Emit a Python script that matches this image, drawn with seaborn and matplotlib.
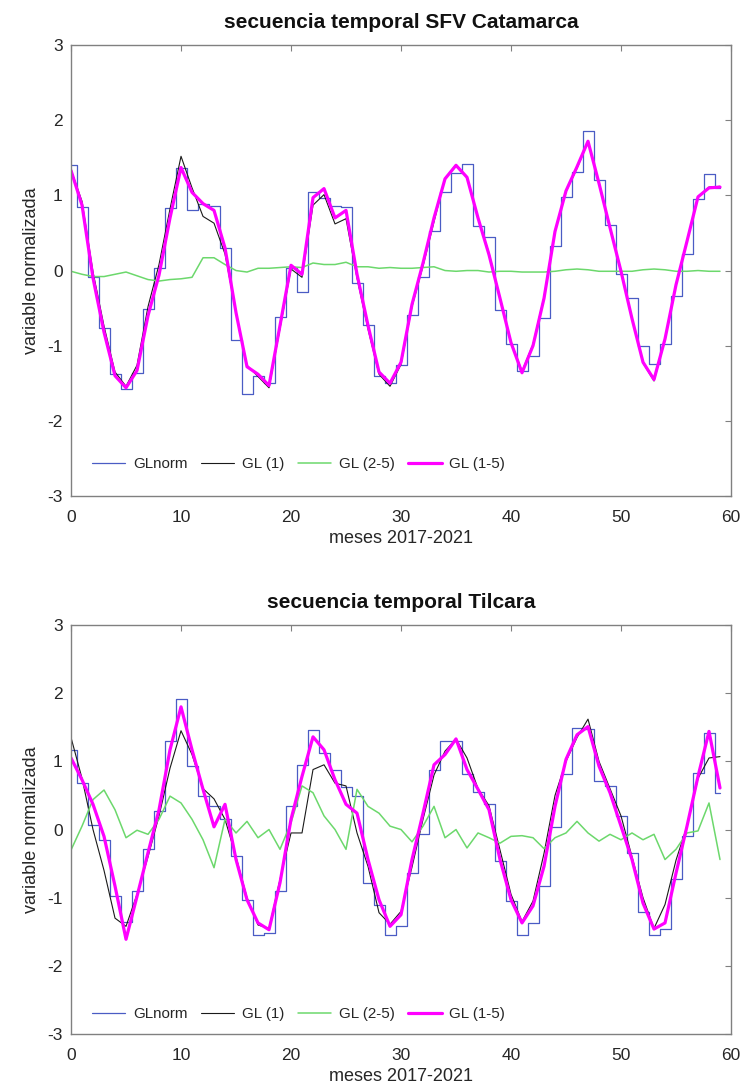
import matplotlib
matplotlib.use("Agg")
import matplotlib.pyplot as plt
import numpy as np
import pandas as pd
import seaborn as sns

# meses 0..59
meses = list(range(60))

# ---- SFV Catamarca ----
cat_glnorm = [1.41, 0.84, -0.08, -0.77, -1.37, -1.58, -1.36, -0.51, 0.03, 0.83,
              1.37, 0.80, 0.89, 0.86, 0.30, -0.93, -1.64, -1.40, -1.50, -0.62,
              0.03, -0.28, 1.04, 0.97, 0.86, 0.84, -0.17, -0.73, -1.40, -1.49,
              -1.26, -0.59, -0.09, 0.53, 1.05, 1.30, 1.42, 0.59, 0.44, -0.52,
              -0.98, -1.34, -1.14, -0.63, 0.33, 0.98, 1.31, 1.85, 1.20, 0.60,
              -0.05, -0.36, -1.01, -1.25, -0.98, -0.34, 0.22, 0.95, 1.29, 1.10]
cat_gl1 = [1.34, 0.92, -0.02, -0.74, -1.35, -1.54, -1.26, -0.48, 0.08, 0.82,
           1.52, 1.10, 0.72, 0.63, 0.22, -0.56, -1.26, -1.41, -1.56, -0.77,
           0.02, -0.09, 0.87, 1.01, 0.62, 0.69, -0.10, -0.78, -1.38, -1.54,
           -1.25, -0.48, 0.06, 0.65, 1.22, 1.41, 1.24, 0.70, 0.23, -0.36,
           -0.95, -1.34, -0.98, -0.35, 0.53, 1.05, 1.36, 1.71, 1.17, 0.58,
           0.00, -0.63, -1.23, -1.47, -0.92, -0.18, 0.40, 0.98, 1.11, 1.12]
cat_gl25 = [-0.01, -0.05, -0.08, -0.08, -0.05, -0.02, -0.07, -0.12, -0.14, -0.12,
            -0.11, -0.09, 0.17, 0.17, 0.08, 0.00, -0.02, 0.03, 0.03, 0.04,
            0.05, 0.04, 0.10, 0.08, 0.08, 0.11, 0.05, 0.05, 0.03, 0.04,
            0.03, 0.03, 0.04, 0.05, 0.00, -0.01, 0.00, 0.00, -0.02, -0.01,
            -0.01, -0.02, -0.02, -0.02, -0.01, 0.01, 0.02, 0.01, -0.01, -0.01,
            -0.01, -0.01, 0.01, 0.02, 0.01, -0.01, -0.01, 0.00, -0.01, -0.01]
cat_gl15 = [1.33, 0.87, -0.10, -0.82, -1.40, -1.56, -1.33, -0.60, -0.06, 0.70,
            1.37, 1.04, 0.89, 0.80, 0.30, -0.56, -1.28, -1.38, -1.53, -0.73,
            0.07, -0.05, 0.97, 1.09, 0.70, 0.80, -0.05, -0.73, -1.35, -1.50,
            -1.22, -0.45, 0.10, 0.70, 1.22, 1.40, 1.24, 0.70, 0.21, -0.37,
            -0.96, -1.36, -1.00, -0.37, 0.52, 1.06, 1.38, 1.72, 1.16, 0.57,
            -0.01, -0.64, -1.22, -1.45, -0.91, -0.19, 0.39, 0.98, 1.10, 1.11]

# ---- Tilcara ----
til_glnorm = [1.17, 0.69, 0.06, -0.15, -0.97, -1.35, -0.90, -0.29, 0.27, 1.30,
              1.92, 0.93, 0.49, 0.35, 0.15, -0.39, -1.03, -1.54, -1.52, -0.90,
              0.34, 0.94, 1.46, 1.12, 0.87, 0.62, 0.49, -0.78, -1.10, -1.54,
              -1.42, -0.64, -0.07, 0.87, 1.30, 1.30, 0.81, 0.55, 0.37, -0.46,
              -1.05, -1.55, -1.37, -0.83, 0.04, 0.82, 1.49, 1.47, 0.71, 0.64,
              0.20, -0.34, -1.21, -1.55, -1.46, -0.73, -0.09, 0.83, 1.41, 0.54]
til_gl1 = [1.35, 0.75, 0.00, -0.60, -1.30, -1.42, -0.95, -0.40, 0.20, 0.90,
           1.45, 1.10, 0.60, 0.45, 0.15, -0.40, -1.00, -1.40, -1.45, -0.73,
           -0.05, -0.05, 0.88, 0.95, 0.68, 0.64, -0.05, -0.54, -1.22, -1.39,
           -1.20, -0.55, 0.15, 0.80, 1.15, 1.33, 1.05, 0.60, 0.35, -0.30,
           -0.95, -1.35, -1.05, -0.35, 0.50, 1.00, 1.35, 1.62, 1.00, 0.60,
           0.20, -0.40, -1.00, -1.45, -1.10, -0.45, 0.05, 0.75, 1.05, 1.07]
til_gl25 = [-0.30, 0.05, 0.44, 0.58, 0.29, -0.12, -0.01, -0.07, 0.15, 0.49,
            0.39, 0.15, -0.15, -0.56, 0.15, -0.05, 0.12, -0.12, 0.00, -0.29,
            0.10, 0.64, 0.54, 0.20, 0.00, -0.29, 0.59, 0.34, 0.24, 0.05,
            0.00, -0.18, 0.05, 0.34, -0.12, 0.00, -0.27, -0.05, -0.12, -0.20,
            -0.10, -0.09, -0.12, -0.28, -0.12, -0.05, 0.12, -0.05, -0.17, -0.07,
            -0.15, -0.05, -0.15, -0.07, -0.44, -0.29, -0.05, -0.02, 0.39, -0.44]
til_gl15 = [1.05, 0.73, 0.37, -0.10, -0.83, -1.61, -0.98, -0.34, 0.29, 1.17,
            1.80, 1.17, 0.59, 0.04, 0.37, -0.44, -1.03, -1.37, -1.47, -0.78,
            0.15, 0.78, 1.36, 1.17, 0.73, 0.37, 0.24, -0.44, -1.03, -1.42,
            -1.25, -0.44, 0.24, 0.95, 1.10, 1.33, 0.88, 0.59, 0.29, -0.44,
            -1.03, -1.37, -1.12, -0.54, 0.34, 1.03, 1.39, 1.51, 0.93, 0.54,
            0.05, -0.44, -1.08, -1.46, -1.37, -0.64, 0.05, 0.78, 1.44, 0.61]

series_labels = ["GLnorm", "GL (1)", "GL (2-5)", "GL (1-5)"]
x_ticks = [0, 10, 20, 30, 40, 50, 60]
y_ticks = [-3, -2, -1, 0, 1, 2, 3]

sns.set_style("white")
plt.rcParams['font.family'] = ['Liberation Sans', 'DejaVu Sans']
plt.rcParams['axes.unicode_minus'] = False

FRAME = '#808080'
TXT = '#262626'


def draw_panel(ax, title, glnorm, gl1, gl25, gl15, legend_y):
    df = pd.DataFrame({"mes": meses, "GLnorm": glnorm, "GL1": gl1,
                       "GL25": gl25, "GL15": gl15})
    sns.lineplot(data=df, x="mes", y="GLnorm", ax=ax, color='#4a5cc4', lw=0.9,
                 drawstyle='steps-mid', estimator=None, label=series_labels[0])
    sns.lineplot(data=df, x="mes", y="GL1", ax=ax, color='#1a1a1a', lw=0.8,
                 estimator=None, label=series_labels[1])
    sns.lineplot(data=df, x="mes", y="GL25", ax=ax, color='#6cd86c', lw=1.1,
                 estimator=None, label=series_labels[2])
    sns.lineplot(data=df, x="mes", y="GL15", ax=ax, color='#ff00ff', lw=2.3,
                 estimator=None, label=series_labels[3])

    ax.set_xlim(0, 60)
    ax.set_ylim(-3, 3)
    ax.set_xticks(x_ticks)
    ax.set_yticks(y_ticks)
    ax.set_title(title, fontsize=15, fontweight='bold', color='#111111', pad=12)
    ax.set_xlabel("meses 2017-2021", fontsize=13, color=TXT, labelpad=4)
    ax.set_ylabel("variable normalizada", fontsize=13, color=TXT, labelpad=5)
    ax.tick_params(direction='in', top=True, right=True, length=4, width=0.8,
                   color=FRAME, labelsize=12.5, labelcolor=TXT)
    ax.tick_params(axis='x', pad=10)
    ax.tick_params(axis='y', pad=6)
    for sp in ax.spines.values():
        sp.set_color(FRAME)
        sp.set_linewidth(1.0)

    leg = ax.legend(loc='center left', bbox_to_anchor=(0.032, legend_y), ncol=4,
                    frameon=False, fontsize=10.9, handlelength=2.2,
                    handletextpad=0.5, columnspacing=0.9, borderpad=0,
                    borderaxespad=0)
    for t in leg.get_texts():
        t.set_color(TXT)


fig = plt.figure(figsize=(7.46, 10.88), dpi=100)
ax_top = fig.add_axes([0.0952, 0.5441, 0.8847, 0.4145])
ax_bot = fig.add_axes([0.0952, 0.0496, 0.8847, 0.3759])

draw_panel(ax_top, "secuencia temporal SFV Catamarca",
           cat_glnorm, cat_gl1, cat_gl25, cat_gl15, 0.071)
draw_panel(ax_bot, "secuencia temporal Tilcara",
           til_glnorm, til_gl1, til_gl25, til_gl15, 0.049)

fig.savefig("out.png", dpi=100)
